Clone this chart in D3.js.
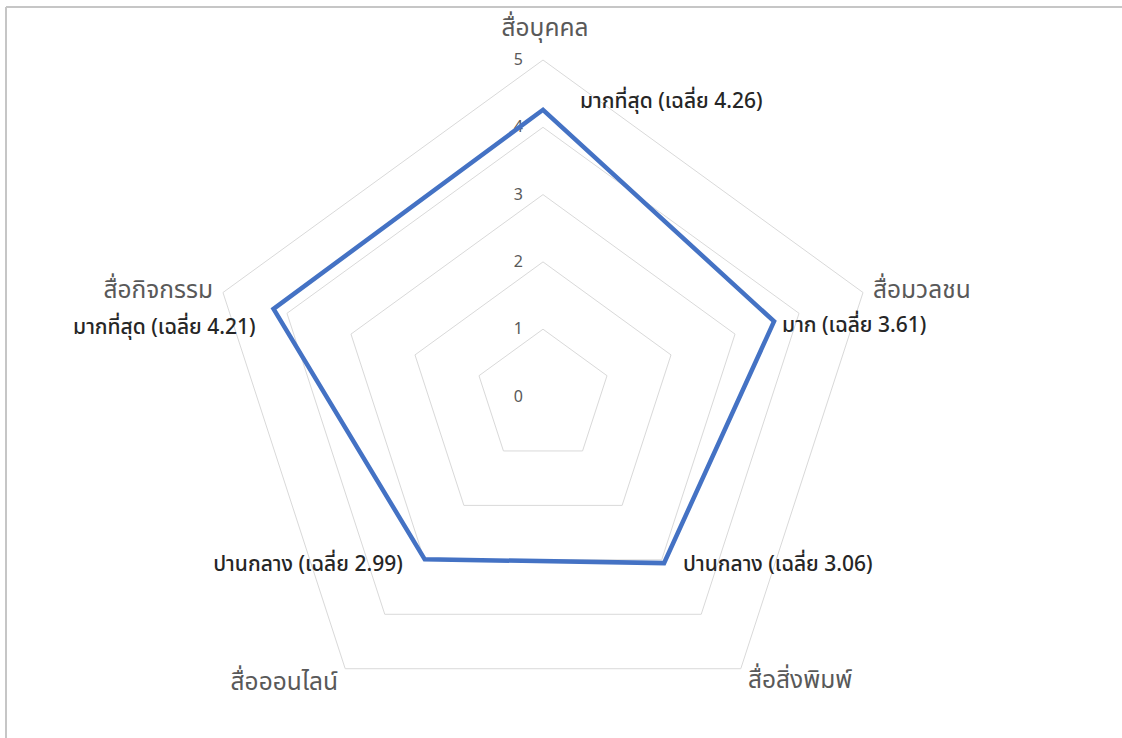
<!DOCTYPE html>
<html>
<head>
<meta charset="utf-8">
<script src="https://cdn.jsdelivr.net/npm/d3@7"></script>
<style>
  html, body { margin: 0; padding: 0; background: #fff; }
  svg { display: block; font-family: "Noto Sans Thai", "Leelawadee UI", "Noto Sans", "DejaVu Sans", sans-serif; }
</style>
</head>
<body>
<svg id="chart" width="1122" height="738"></svg>
<script>
const categories = ["สื่อบุคคล", "สื่อมวลชน", "สื่อสิ่งพิมพ์", "สื่อออนไลน์", "สื่อกิจกรรม"];
const values = [4.26, 3.61, 3.06, 2.99, 4.21];
const valueLabels = ["มากที่สุด (เฉลี่ย 4.26)", "มาก (เฉลี่ย 3.61)", "ปานกลาง (เฉลี่ย 3.06)", "ปานกลาง (เฉลี่ย 2.99)", "มากที่สุด (เฉลี่ย 4.21)"];
const ticks = [0, 1, 2, 3, 4, 5];

const svg = d3.select("#chart");
const W = 1122, H = 738;
const cx = 543, cy = 396.5, R = 336.5;

// frame (top & left edges visible)
svg.append("line").attr("x1", 6).attr("x2", W).attr("y1", 7).attr("y2", 7).attr("stroke", "#c6c6c6").attr("stroke-width", 2);
svg.append("line").attr("x1", 6).attr("x2", 6).attr("y1", 7).attr("y2", H).attr("stroke", "#c6c6c6").attr("stroke-width", 2);

const r = d3.scaleLinear().domain([0, 5]).range([0, R]);
const angle = d3.scalePoint().domain(categories).range([0, 2 * Math.PI * (categories.length - 1) / categories.length]);
const pt = (cat, v) => {
  const a = angle(cat);
  return [cx + r(v) * Math.sin(a), cy - r(v) * Math.cos(a)];
};

const g = svg.append("g");

// gridlines (pentagons)
ticks.filter(t => t > 0).forEach(t => {
  g.append("polygon")
    .attr("points", categories.map(c => pt(c, t).join(",")).join(" "))
    .attr("fill", "none").attr("stroke", "#d9d9d9").attr("stroke-width", 1);
});

// tick labels
g.selectAll(".tick").data(ticks).enter().append("text")
  .attr("x", cx - 20).attr("y", t => cy - r(t))
  .attr("text-anchor", "end").attr("dominant-baseline", "central")
  .attr("font-size", 16).attr("fill", "#595959")
  .text(t => t);

// data line
const line = d3.line().curve(d3.curveLinearClosed);
g.append("path")
  .attr("d", line(categories.map((c, i) => pt(c, values[i]))))
  .attr("fill", "none").attr("stroke", "#4472C4").attr("stroke-width", 4.5).attr("stroke-linejoin", "miter");

// category labels
const catPos = [
  {dx: 2, dy: -368, anchor: "middle"},
  {dx: 330, dy: -106, anchor: "start"},
  {dx: 205, dy: 284, anchor: "start"},
  {dx: -205, dy: 286, anchor: "end"},
  {dx: -330, dy: -106, anchor: "end"}
];
categories.forEach((c, i) => {
  g.append("text")
    .attr("x", cx + catPos[i].dx).attr("y", cy + catPos[i].dy)
    .attr("text-anchor", catPos[i].anchor).attr("dominant-baseline", "central")
    .attr("font-size", 24.5).attr("fill", "#595959")
    .text(c);
});

// data labels
const labPos = [
  {dx: 37, dy: -8, anchor: "start"},
  {dx: 8, dy: 4, anchor: "start"},
  {dx: 19, dy: 1, anchor: "start"},
  {dx: -22, dy: 5, anchor: "end"},
  {dx: -18, dy: 19, anchor: "end"}
];
categories.forEach((c, i) => {
  const p = pt(c, values[i]);
  g.append("text")
    .attr("x", p[0] + labPos[i].dx).attr("y", p[1] + labPos[i].dy)
    .attr("text-anchor", labPos[i].anchor).attr("dominant-baseline", "central")
    .attr("font-size", 21).attr("font-weight", 500).attr("fill", "#262626")
    .text(valueLabels[i]);
});
</script>
</body>
</html>
